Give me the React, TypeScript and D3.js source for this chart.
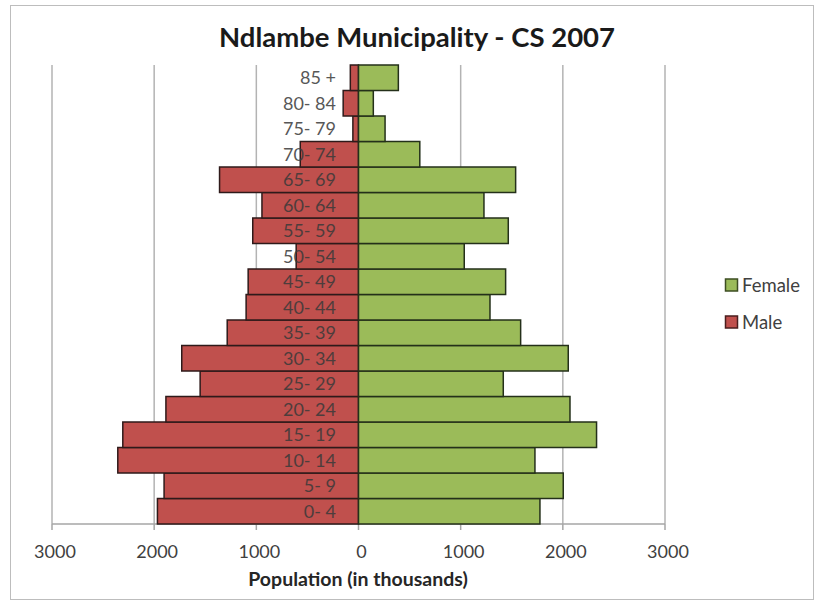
import React from "react";
import * as d3 from "d3";

const ageGroups = ["0- 4","5- 9","10- 14","15- 19","20- 24","25- 29","30- 34","35- 39","40- 44","45- 49","50- 54","55- 59","60- 64","65- 69","70- 74","75- 79","80- 84","85 +"];
const maleValues = [1968,1903,2356,2307,1885,1550,1730,1285,1100,1080,610,1035,945,1360,570,55,150,80];
const femaleValues = [1776,2004,1727,2330,2070,1417,2053,1587,1287,1440,1035,1466,1228,1538,600,260,145,390];
const tickValues = [-3000,-2000,-1000,0,1000,2000,3000];
const seriesNames = ["Female","Male"];

const RED = "#C0504D";
const GREEN = "#9BBB59";
const FONT = "Lato, 'Open Sans', sans-serif";

export default function App() {
  const left = 52, right = 665, top = 65, bottom = 524;
  const x = d3.scaleLinear().domain([-3000, 3000]).range([left, right]);
  const y = d3.scaleBand<string>().domain([...ageGroups].reverse()).range([top, bottom]).padding(0);
  const bw = y.bandwidth();
  return (
    <svg width={819} height={602} style={{ position: "absolute", left: 0, top: 0, background: "#fff" }}>
      <rect x={10.5} y={5.5} width={803} height={594} fill="#fff" stroke="#bdbdbd" strokeWidth={1} />
      <text x={417} y={47} textAnchor="middle" fontFamily={FONT} fontWeight="bold" fontSize={27.5} fill="#1a1a1a">
        Ndlambe Municipality - CS 2007
      </text>
      {tickValues.filter(t => t !== 0).map(t => (
        <line key={"g" + t} x1={x(t)} x2={x(t)} y1={top} y2={bottom} stroke="#b3b3b3" strokeWidth={1.5} />
      ))}
      <line x1={left} x2={right} y1={bottom} y2={bottom} stroke="#a6a6a6" strokeWidth={1.5} />
      {tickValues.map(t => (
        <g key={"t" + t}>
          <line x1={x(t)} x2={x(t)} y1={bottom} y2={bottom + 6} stroke="#a6a6a6" strokeWidth={1.5} />
          <text x={x(t) + 3} y={558} textAnchor="middle" fontFamily={FONT} fontSize={18} fill="#404040">
            {Math.abs(t)}
          </text>
        </g>
      ))}
      {ageGroups.map((a, i) => (
        <g key={a}>
          <rect x={x(-maleValues[i])} y={y(a)!} width={x(0) - x(-maleValues[i])} height={bw} fill={RED} stroke="#2e1a1a" strokeWidth={1.5} />
          <rect x={x(0)} y={y(a)!} width={x(femaleValues[i]) - x(0)} height={bw} fill={GREEN} stroke="#24301a" strokeWidth={1.5} />
        </g>
      ))}
      {ageGroups.map(a => (
        <text key={"l" + a} x={336} y={y(a)! + bw / 2 + 6.5} textAnchor="end" fontFamily={FONT} fontSize={18} fill="#3a3a3a" opacity={0.85}>
          {a}
        </text>
      ))}
      <text x={358} y={586} textAnchor="middle" fontFamily={FONT} fontWeight="bold" fontSize={19.5} fill="#262626">
        Population (in thousands)
      </text>
      {seriesNames.map((s, i) => (
        <g key={s}>
          <rect x={725.5} y={279 + i * 37} width={12} height={12} fill={s === "Female" ? GREEN : RED} stroke={s === "Female" ? "#3d4d22" : "#4a1e1e"} strokeWidth={1.5} />
          <text x={742} y={291.5 + i * 37} fontFamily={FONT} fontSize={18.5} fill="#404040">{s}</text>
        </g>
      ))}
    </svg>
  );
}
